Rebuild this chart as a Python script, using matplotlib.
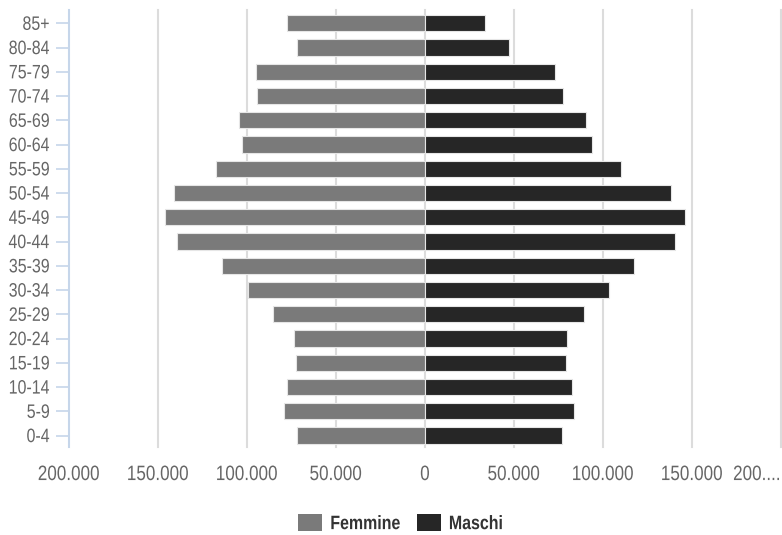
import matplotlib
matplotlib.use("Agg")
import matplotlib.pyplot as plt
from matplotlib.patches import Patch
from matplotlib.patheffects import AbstractPathEffect
from matplotlib.transforms import Affine2D
import numpy as np

# Age groups, bottom to top
age_groups = ["0-4", "5-9", "10-14", "15-19", "20-24", "25-29", "30-34", "35-39",
              "40-44", "45-49", "50-54", "55-59", "60-64", "65-69", "70-74",
              "75-79", "80-84", "85+"]
femmine = [71900, 79000, 77400, 72700, 73400, 85400, 99600, 114000,
           139500, 145900, 141200, 117200, 102800, 104300, 94200,
           94900, 71700, 77400]
maschi = [77100, 83900, 82600, 79200, 80000, 89500, 103200, 117600,
          140600, 146300, 138200, 110300, 93600, 90400, 77700,
          73000, 47400, 33900]
x_ticks = [-200000, -150000, -100000, -50000, 0, 50000, 100000, 150000, 200000]
x_tick_labels = ["200.000", "150.000", "100.000", "50.000", "0",
                 "50.000", "100.000", "150.000", "200...."]

FEMALE_COLOR = "#7a7a7a"
MALE_COLOR = "#262626"


class Squeeze(AbstractPathEffect):
    """Narrow the glyphs horizontally around a fixed anchor (condensed look)."""

    def __init__(self, sx=0.82, anchor="center"):
        super().__init__()
        self.sx = sx
        self.anchor = anchor

    def draw_path(self, renderer, gc, tpath, affine, rgbFace=None):
        ext = tpath.get_extents(affine)
        x0 = {"left": ext.x0, "center": (ext.x0 + ext.x1) / 2, "right": ext.x1}[self.anchor]
        squeeze = Affine2D().translate(-x0, 0).scale(self.sx, 1).translate(x0, 0)
        renderer.draw_path(gc, tpath, affine + squeeze, rgbFace)


plt.rcParams["font.family"] = ["Liberation Sans", "DejaVu Sans"]

fig = plt.figure(figsize=(7.82, 5.35), dpi=100)
ax = fig.add_axes([69 / 782, 1 - 447 / 535, 712 / 782, 437 / 535])

y = np.arange(len(age_groups))
ax.barh(y, -np.array(femmine), height=0.67, color=FEMALE_COLOR,
        edgecolor="#e6e6e6", linewidth=0.8, zorder=2)
ax.barh(y, maschi, height=0.67, color=MALE_COLOR,
        edgecolor="#e6e6e6", linewidth=0.8, zorder=2)

ax.set_xlim(-200000, 200000)
ax.set_ylim(-0.47, 17.55)

# vertical gridlines
for xv in x_ticks[1:]:
    ax.axvline(xv, color="#dcdcdc", linewidth=1.5, zorder=1, clip_on=False)

for side in ["top", "right", "bottom"]:
    ax.spines[side].set_visible(False)
ax.spines["left"].set_color("#c6d6ea")
ax.spines["left"].set_linewidth(1.5)

ax.set_yticks(y)
ax.set_yticklabels(age_groups)
ax.tick_params(axis="y", length=9.4, width=1.2, color="#c6d6ea", pad=4.3,
               labelsize=14, labelcolor="#666666")
for lbl in ax.get_yticklabels():
    lbl.set_path_effects([Squeeze(anchor="right")])

ax.set_xticks(x_ticks)
ax.set_xticklabels(x_tick_labels)
ax.tick_params(axis="x", length=0, pad=13, labelsize=15, labelcolor="#666666")
for lbl in ax.get_xticklabels()[:-1]:
    lbl.set_path_effects([Squeeze(anchor="center")])
last = ax.get_xticklabels()[-1]
last.set_horizontalalignment("right")
last.set_path_effects([Squeeze(anchor="right")])

handles = [Patch(facecolor=FEMALE_COLOR, label="Femmine"),
           Patch(facecolor=MALE_COLOR, label="Maschi")]
leg = fig.legend(handles=handles, loc="center left",
                 bbox_to_anchor=(298 / 782, 1 - 523.5 / 535),
                 ncol=2, frameon=False, borderpad=0, borderaxespad=0,
                 handlelength=1.24, handleheight=0.98,
                 handletextpad=0.41, columnspacing=0.05,
                 prop={"size": 14, "weight": "bold"})
for t in leg.get_texts():
    t.set_color("#333333")
    t.set_path_effects([Squeeze(anchor="left")])

fig.savefig("out.png", dpi=100)
